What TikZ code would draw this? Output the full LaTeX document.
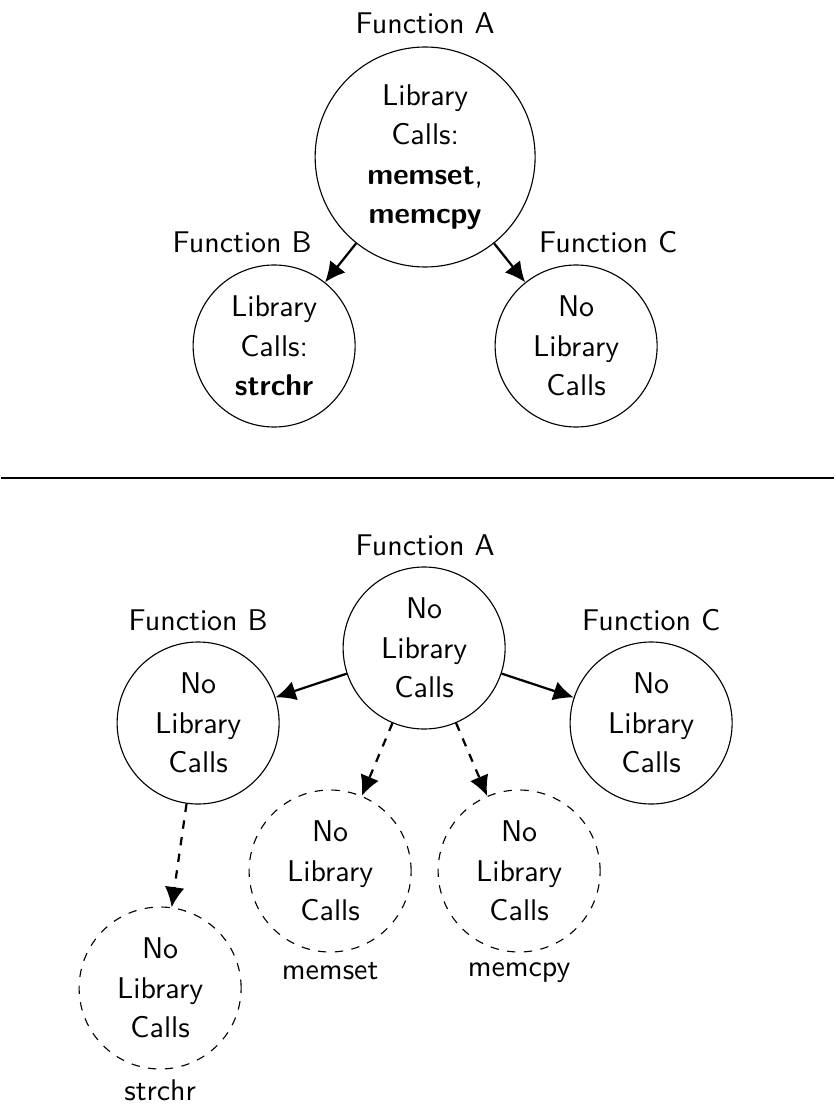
\documentclass[tikz,border=0pt]{standalone}
\usetikzlibrary{arrows.meta}

\begin{document}
\begin{tikzpicture}[
    x=0.357143pt, y=-0.357143pt,
    txt/.style={font=\sffamily\fontsize{10.7}{14.1}\selectfont},
    fn/.style={txt, circle, draw, line width=0.4pt, align=center,
               inner sep=0pt, minimum size=57.86pt},
    fnbig/.style={fn, minimum size=78.57pt},
    lib/.style={fn, dashed},
    lbl/.style={txt, inner sep=3.333pt},
    call/.style={line width=0.8pt, -{Latex[length=7.2pt,width=7pt]}},
    libcall/.style={call, dashed},
    divider/.style={line width=0.8pt}
  ]
  % canvas
  \fill[white] (0,0) rectangle (833,1110);

  % ---- upper tree: library calls still present ----
  \node[fnbig] (A) at (424,157)
    {Library\\Calls:\\\textbf{memset},\\\textbf{memcpy}};
  \node[fn] (B) at (273,346) {Library\\Calls:\\\textbf{strchr}};
  \node[fn] (C) at (575,346) {No\\Library\\Calls};

  \node[lbl, anchor=base] (nA) at (424,34) {Function A};
  \node[lbl, anchor=base] (nB) at (241,253) {Function B};
  \node[lbl, anchor=base] (nC) at (607,253) {Function C};

  \draw[call] (A) -- (B);
  \draw[call] (A) -- (C);

  % ---- divider ----
  \coordinate (d1) at (0,478);
  \coordinate (d2) at (833,478);
  \draw[divider] (d1) -- (d2);

  % ---- lower tree: library calls turned into dashed callees ----
  \node[fn] (A2) at (423,648) {No\\Library\\Calls};
  \node[fn] (B2) at (197,723) {No\\Library\\Calls};
  \node[fn] (C2) at (650,723) {No\\Library\\Calls};

  \node[lbl, anchor=base] (nA2) at (424,555) {Function A};
  \node[lbl, anchor=base] (nB2) at (197,630) {Function B};
  \node[lbl, anchor=base] (nC2) at (650,630) {Function C};

  \node[lib] (ms) at (329,871) {No\\Library\\Calls};
  \node[lib] (mc) at (518,871) {No\\Library\\Calls};
  \node[lib] (sc) at (159,988) {No\\Library\\Calls};

  \node[lbl, anchor=north] (nms) at (ms.south) {memset};
  \node[lbl, anchor=north] (nmc) at (mc.south) {memcpy};
  \node[lbl, anchor=north] (nsc) at (sc.south) {strchr};

  \draw[call] (A2) -- (B2);
  \draw[call] (A2) -- (C2);
  \draw[libcall] (A2) -- (ms);
  \draw[libcall] (A2) -- (mc);
  \draw[libcall] (B2) -- (sc);
\end{tikzpicture}
\end{document}
